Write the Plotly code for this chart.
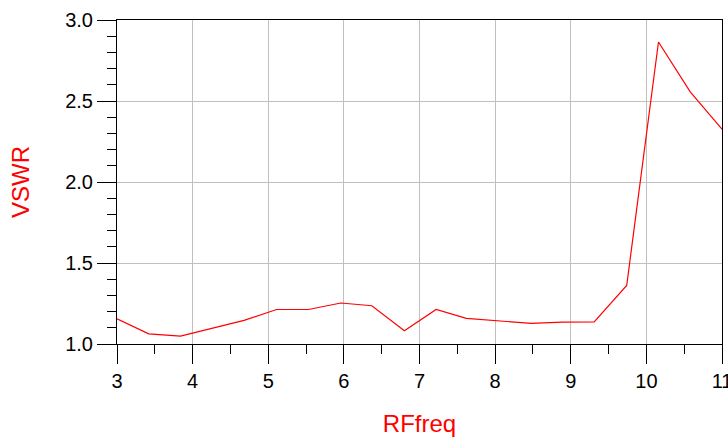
import plotly.graph_objects as go

rf_freq = [3.0, 3.42, 3.84, 4.26, 4.68, 5.11, 5.53, 5.96, 6.37, 6.80, 7.22, 7.62,
           8.05, 8.48, 8.89, 9.31, 9.74, 10.16, 10.58, 11.0]
vswr = [1.156, 1.063, 1.049, 1.098, 1.146, 1.213, 1.213, 1.253, 1.236, 1.082, 1.213, 1.158,
        1.143, 1.127, 1.135, 1.136, 1.361, 2.864, 2.557, 2.326]

x_ticks = [3, 4, 5, 6, 7, 8, 9, 10, 11]
y_ticks = [1.0, 1.5, 2.0, 2.5, 3.0]
y_tick_labels = ["1.0", "1.5", "2.0", "2.5", "3.0"]

fig = go.Figure(go.Scatter(x=rf_freq, y=vswr, mode="lines",
                           line=dict(color="#ff0000", width=1.2)))

axis_font = dict(family="Liberation Sans, Arial, sans-serif", size=20, color="#000000")
title_font = dict(family="Liberation Sans, Arial, sans-serif", size=24, color="#ff0000")

fig.update_layout(
    width=728, height=445,
    margin=dict(l=117, r=6, t=20, b=101, autoexpand=False),
    paper_bgcolor="white", plot_bgcolor="white",
    showlegend=False,
    xaxis=dict(
        range=[3, 11], tickvals=x_ticks, ticktext=[str(v) for v in x_ticks],
        showgrid=True, gridcolor="#c0c0c0", gridwidth=1,
        showline=True, linecolor="#000000", linewidth=1, mirror=True,
        ticks="outside", ticklen=19, tickcolor="#000000", tickwidth=1,
        tickfont=axis_font, zeroline=False, automargin=False,
        ticklabeloverflow="allow",
        minor=dict(dtick=0.5, ticks="outside", ticklen=9, tickcolor="#000000", showgrid=False),
        title=dict(text="RFfreq", font=title_font, standoff=24),
    ),
    yaxis=dict(
        range=[1, 3], tickvals=y_ticks, ticktext=y_tick_labels,
        showgrid=True, gridcolor="#c0c0c0", gridwidth=1,
        showline=True, linecolor="#000000", linewidth=1, mirror=True,
        ticks="outside", ticklen=19, tickcolor="#000000", tickwidth=1,
        tickfont=axis_font, zeroline=False, automargin=False,
        ticklabeloverflow="allow",
        minor=dict(dtick=0.1, ticks="outside", ticklen=9, tickcolor="#000000", showgrid=False),
        title=dict(text="VSWR", font=title_font, standoff=28),
    ),
)

# remove the page's default body margin so the 728x445 figure fills the window exactly
fig.write_html("out.html",
               config={"displayModeBar": False},
               post_script="document.body.style.margin='0';document.body.style.overflow='hidden';")
